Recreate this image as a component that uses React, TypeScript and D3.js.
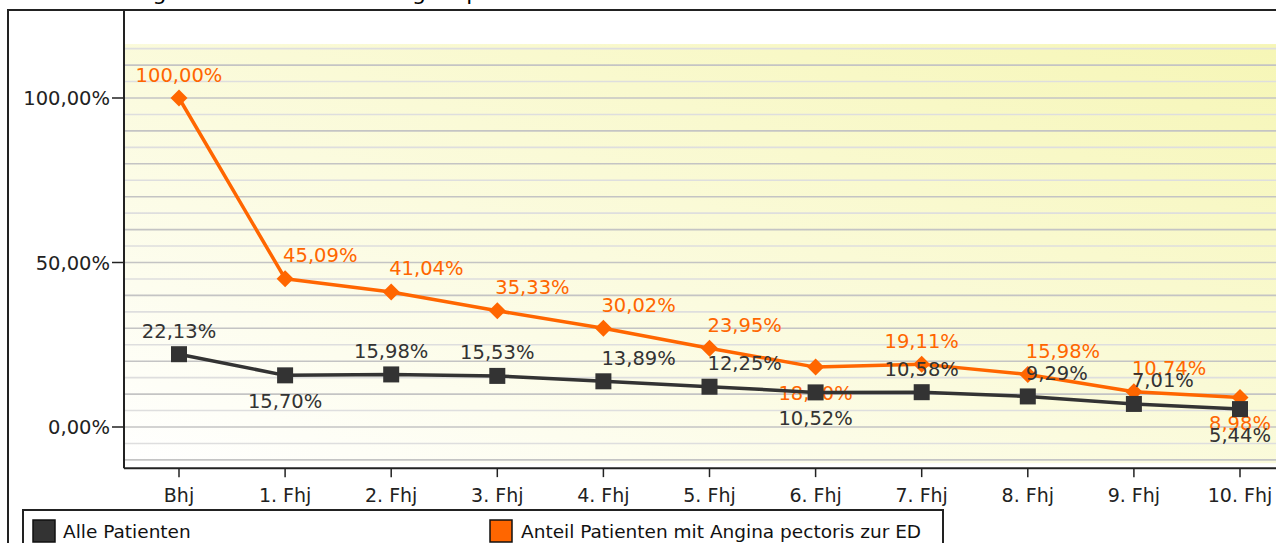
import React from "react";
import * as d3 from "d3";

const categories = ["Bhj", "1. Fhj", "2. Fhj", "3. Fhj", "4. Fhj", "5. Fhj", "6. Fhj", "7. Fhj", "8. Fhj", "9. Fhj", "10. Fhj"];
const allePatienten = [22.13, 15.70, 15.98, 15.53, 13.89, 12.25, 10.52, 10.58, 9.29, 7.01, 5.44];
const anginaAnteil = [100.00, 45.09, 41.04, 35.33, 30.02, 23.95, 18.20, 19.11, 15.98, 10.74, 8.98];
const yTicks = [0, 50, 100];
const gridValues = d3.range(-10, 116, 5);
const seriesNames = ["Alle Patienten", "Anteil Patienten mit Angina pectoris zur ED"];
const titleText = "Entwicklung aller Patienten mit Angina pectoris";

const W = 1276;
const H = 543;
const FONT = "'DejaVu Sans', Verdana, sans-serif";
const ORANGE = "#ff6600";
const DARK = "#333333";

const locale = d3.formatLocale({ decimal: ",", thousands: ".", grouping: [3], currency: ["", "€"] });
const fmt = (v: number) => locale.format(".2f")(v) + "%";

export default function App() {
  const x = d3.scalePoint<string>().domain(categories).range([179, 1240]);
  const y = d3.scaleLinear().domain([0, 100]).range([427, 98]);
  const plotLeft = 124;
  const plotBottom = y(-12.5);
  const bgTop = y(116.4);
  const bgBottom = y(-11);

  const line = d3
    .line<number>()
    .x((_, i) => x(categories[i]) as number)
    .y((d) => y(d));

  const isBelow = (vals: number[], i: number) => {
    const nb: number[] = [];
    if (i > 0) nb.push(vals[i - 1]);
    if (i < vals.length - 1) nb.push(vals[i + 1]);
    return nb.every((n) => vals[i] < n);
  };
  // label shifted to the right when the line descends through the point
  const isShifted = (vals: number[], i: number) =>
    i > 0 && i < vals.length - 1 && vals[i - 1] - vals[i] > 1 && vals[i + 1] < vals[i];

  const labels = (vals: number[], color: string) =>
    vals.map((v, i) => {
      const below = isBelow(vals, i);
      const shifted = !below && isShifted(vals, i);
      const px = x(categories[i]) as number;
      return (
        <text
          key={i}
          x={shifted ? px - 2 : px}
          y={y(v) + (below ? 33 : -16.5)}
          textAnchor={shifted ? "start" : "middle"}
          fill={color}
          fontSize={19.5}
          fontFamily={FONT}
        >
          {fmt(v)}
        </text>
      );
    });

  return (
    <svg width={W} height={H} style={{ position: "absolute", left: 0, top: 0, background: "#fff" }}>
      <defs>
        <linearGradient id="bg" x1="0" y1="1" x2="1" y2="0">
          <stop offset="0%" stopColor="#ffffff" />
          <stop offset="100%" stopColor="#f6f6b6" />
        </linearGradient>
      </defs>
      {/* title (clipped at top) */}
      <text x={33} y={-0.5} fontSize={22} fontFamily={FONT} fill="#000">
        {titleText}
      </text>
      {/* outer frame */}
      <path d={`M8,${H} V10 H${W}`} fill="none" stroke="#222" strokeWidth={2} />
      {/* plot background */}
      <rect x={plotLeft} y={bgTop} width={W - plotLeft} height={bgBottom - bgTop} fill="url(#bg)" />
      {/* grid */}
      {gridValues.map((g) => (
        <line
          key={g}
          x1={plotLeft}
          x2={W}
          y1={y(g)}
          y2={y(g)}
          stroke={g % 10 === 0 ? "#c4c4c4" : "#dedede"}
          strokeWidth={1.6}
        />
      ))}
      {/* axes */}
      <line x1={plotLeft} x2={plotLeft} y1={10} y2={plotBottom} stroke="#222" strokeWidth={2} />
      <line x1={plotLeft} x2={W} y1={plotBottom} y2={plotBottom} stroke="#222" strokeWidth={2} />
      {yTicks.map((t) => (
        <g key={t}>
          <line x1={plotLeft - 12} x2={plotLeft} y1={y(t)} y2={y(t)} stroke="#222" strokeWidth={1.5} />
          <text x={plotLeft - 14} y={y(t) + 7} textAnchor="end" fontSize={19.5} fontFamily={FONT} fill="#222">
            {fmt(t)}
          </text>
        </g>
      ))}
      {categories.map((c) => (
        <g key={c}>
          <line x1={x(c) as number} x2={x(c) as number} y1={plotBottom} y2={plotBottom + 9} stroke="#222" strokeWidth={1.5} />
          <text x={x(c) as number} y={502} textAnchor="middle" fontSize={19} fontFamily={FONT} fill="#222">
            {c}
          </text>
        </g>
      ))}
      {/* orange series */}
      <path d={line(anginaAnteil) || ""} fill="none" stroke={ORANGE} strokeWidth={3.5} strokeLinejoin="round" />
      {anginaAnteil.map((v, i) => {
        const cx = x(categories[i]) as number;
        const cy = y(v);
        return <path key={i} d={`M${cx},${cy - 8.5} L${cx + 8.5},${cy} L${cx},${cy + 8.5} L${cx - 8.5},${cy} Z`} fill={ORANGE} />;
      })}
      {labels(anginaAnteil, ORANGE)}
      {/* dark series */}
      <path d={line(allePatienten) || ""} fill="none" stroke={DARK} strokeWidth={3.5} strokeLinejoin="round" />
      {allePatienten.map((v, i) => {
        const cx = x(categories[i]) as number;
        const cy = y(v);
        return <rect key={i} x={cx - 8} y={cy - 8} width={16} height={16} fill={DARK} />;
      })}
      {labels(allePatienten, DARK)}
      {/* legend */}
      <path d={`M23,${H} V510 H943 V${H}`} fill="none" stroke="#222" strokeWidth={2} />
      <rect x={33} y={520} width={22} height={22} fill={DARK} stroke="#111" strokeWidth={1.5} />
      <text x={63} y={538} fontSize={18.5} fontFamily={FONT} fill="#111">
        {seriesNames[0]}
      </text>
      <rect x={490} y={520} width={22} height={22} fill={ORANGE} stroke="#111" strokeWidth={1.5} />
      <text x={521} y={538} fontSize={18.5} fontFamily={FONT} fill="#111">
        {seriesNames[1]}
      </text>
    </svg>
  );
}
